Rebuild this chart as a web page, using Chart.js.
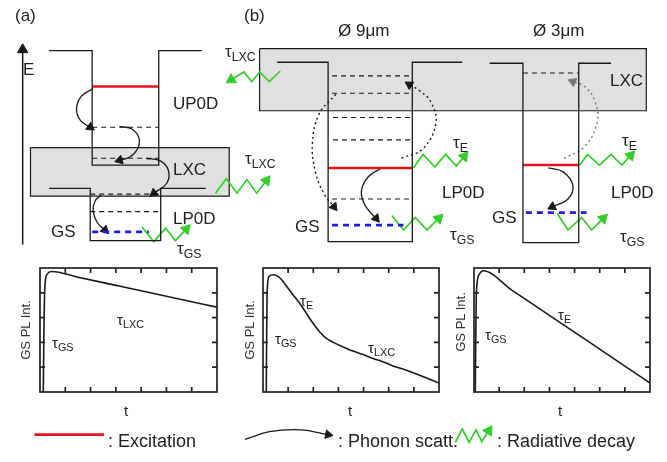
<!DOCTYPE html>
<html>
<head>
<meta charset="utf-8">
<script src="https://cdn.jsdelivr.net/npm/chart.js@4/dist/chart.umd.min.js"></script>
<style>
  body { margin: 0; background: #fff; }
  #wrap { position: relative; width: 667px; height: 462px; overflow: hidden;
          font-family: "Liberation Sans", Arial, sans-serif; color: #222; }
  canvas { position: absolute; }
  .lbl { position: absolute; white-space: nowrap; line-height: 1; transform: translateY(-50%); }
  .lbl sub { font-size: 0.72em; vertical-align: -0.35em; }
  .ylab { position: absolute; white-space: nowrap; line-height: 1; font-size: 13px;
          transform: translate(-50%, -50%) rotate(-90deg); color: #333; }
</style>
</head>
<body>
<div id="wrap">
  <canvas id="diagram" width="667" height="462" style="left:0;top:0"></canvas>
  <canvas id="plotA" width="185" height="132" style="left:36px;top:264px"></canvas>
  <canvas id="plotB" width="184" height="132" style="left:259px;top:264px"></canvas>
  <canvas id="plotC" width="184" height="132" style="left:470px;top:264px"></canvas>

  <div class="lbl" style="left:15px;top:15px;font-size:17px">(a)</div>
  <div class="lbl" style="left:244px;top:15px;font-size:17px">(b)</div>
  <div class="lbl" style="left:23px;top:69px;font-size:17px">E</div>
  <div class="lbl" style="left:173px;top:103px;font-size:17px">UP0D</div>
  <div class="lbl" style="left:173px;top:169px;font-size:17px">LXC</div>
  <div class="lbl" style="left:173px;top:218px;font-size:17px">LP0D</div>
  <div class="lbl" style="left:51px;top:231px;font-size:17px">GS</div>
  <div class="lbl" style="left:245px;top:160px;font-size:17px">τ<sub>LXC</sub></div>
  <div class="lbl" style="left:177px;top:250px;font-size:17px">τ<sub>GS</sub></div>

  <div class="lbl" style="left:338px;top:30px;font-size:17px">Ø 9μm</div>
  <div class="lbl" style="left:533px;top:30px;font-size:17px">Ø 3μm</div>
  <div class="lbl" style="left:225px;top:53px;font-size:17px">τ<sub>LXC</sub></div>
  <div class="lbl" style="left:610px;top:80px;font-size:17px">LXC</div>
  <div class="lbl" style="left:442px;top:192px;font-size:17px">LP0D</div>
  <div class="lbl" style="left:611px;top:192px;font-size:17px">LP0D</div>
  <div class="lbl" style="left:295px;top:226px;font-size:17px">GS</div>
  <div class="lbl" style="left:492px;top:217px;font-size:17px">GS</div>
  <div class="lbl" style="left:453px;top:144px;font-size:17px">τ<sub>E</sub></div>
  <div class="lbl" style="left:450px;top:236px;font-size:17px">τ<sub>GS</sub></div>
  <div class="lbl" style="left:622px;top:142px;font-size:17px">τ<sub>E</sub></div>
  <div class="lbl" style="left:620px;top:238px;font-size:17px">τ<sub>GS</sub></div>

  <div class="ylab" style="left:25px;top:330px">GS PL Int.</div>
  <div class="ylab" style="left:249px;top:330px">GS PL Int.</div>
  <div class="ylab" style="left:460px;top:322px">GS PL Int.</div>
  <div class="lbl" style="left:124px;top:410px;font-size:15px">t</div>
  <div class="lbl" style="left:348px;top:410px;font-size:15px">t</div>
  <div class="lbl" style="left:558px;top:410px;font-size:15px">t</div>
  <div class="lbl" style="left:52px;top:344px;font-size:15px">τ<sub>GS</sub></div>
  <div class="lbl" style="left:117px;top:321px;font-size:15px">τ<sub>LXC</sub></div>
  <div class="lbl" style="left:300px;top:302px;font-size:15px">τ<sub>E</sub></div>
  <div class="lbl" style="left:275px;top:340px;font-size:15px">τ<sub>GS</sub></div>
  <div class="lbl" style="left:368px;top:349px;font-size:15px">τ<sub>LXC</sub></div>
  <div class="lbl" style="left:558px;top:316px;font-size:15px">τ<sub>E</sub></div>
  <div class="lbl" style="left:485px;top:336px;font-size:15px">τ<sub>GS</sub></div>

  <div class="lbl" style="left:108px;top:441px;font-size:18px">: Excitation</div>
  <div class="lbl" style="left:338px;top:441px;font-size:18px">: Phonon scatt.</div>
  <div class="lbl" style="left:497px;top:441px;font-size:18px">: Radiative decay</div>
</div>

<script>
// ---- decay curves (t in arbitrary units 0..7, PL intensity 0..5)
const tTicks = [1, 2, 3, 4, 5, 6];
const iTicks = [1, 2, 3, 4];

const tA = [0.13, 0.15, 0.17, 0.21, 0.29, 0.46, 1.5, 3, 4.5, 6, 7];
const plA = [0, 2.0, 3.5, 4.46, 4.76, 4.86, 4.63, 4.30, 3.97, 3.64, 3.42];

const tB = [0.13, 0.16, 0.24, 0.4, 0.6, 0.8, 0.99, 1.19, 1.46, 1.72, 1.99, 2.25, 2.52,
            2.79, 3.18, 3.58, 3.98, 4.38, 4.77, 5.17, 5.7, 6.23, 6.63, 7.0];
const plB = [0, 3.9, 4.66, 4.73, 4.66, 4.46, 4.19, 3.92, 3.58, 3.18, 2.77, 2.43, 2.16,
             2.0, 1.82, 1.65, 1.51, 1.35, 1.22, 1.05, 0.88, 0.68, 0.51, 0.36];

const tC = [0.05, 0.09, 0.2, 0.36, 1.5, 3, 4.5, 6, 7];
const plC = [0, 3.92, 4.73, 4.89, 4.11, 3.09, 2.07, 1.04, 0.36];

// ---- energy diagrams (diagram coords: x across, y = energy downwards)
const eAxis = [[16, 245], [16, 44]];
const wellUP = [[43, 45], [87, 45], [87, 163], [155, 163], [155, 45], [199, 45]];
const wellLP = [[43, 187], [85, 187], [85, 241], [157, 241], [157, 187], [203, 187]];
const well9 = [[276, 57], [328, 57], [328, 242], [414, 242], [414, 57], [465, 57]];
const well3 = [[493, 58], [527, 58], [527, 243], [584, 243], [584, 58], [617, 58]];
const boxA = [[24, 145], [227, 145], [227, 195], [24, 195], [24, 145]];
const boxB = [[258, 43], [653, 43], [653, 107], [258, 107], [258, 43]];

const excite = [[[87, 82], [155, 82]], [[328, 166], [414, 166]], [[527, 163], [584, 163]], [[28, 441], [99, 441]]];
const levels = [[[87, 124], [155, 124]], [[87, 156], [155, 156]], [[85, 193], [157, 193]], [[85, 211], [157, 211]],
                [[332, 71], [412, 71]], [[332, 89], [412, 89]], [[333, 114], [412, 114]], [[333, 137], [412, 137]],
                [[332, 198], [412, 198]], [[527, 68], [584, 68]]];
const groundStates = [[[87, 232], [145, 232]], [[332, 225], [405, 225]], [[530, 212], [592, 212]]];

const phonon = [
  [[88, 84], [76, 92], [71, 105], [75, 117], [85, 124]],
  [[115, 123], [128, 126], [135, 136], [133, 147], [125, 155], [115, 158]],
  [[142, 156], [157, 159], [165, 169], [163, 182], [150, 192]],
  [[96, 194], [90, 200], [88, 210], [92, 222], [100, 230]],
  [[383, 166], [369, 175], [362, 190], [366, 205], [377, 218]],
  [[553, 166], [568, 170], [578, 184], [573, 198], [557, 206]],
  [[243, 446], [268, 438], [300, 436], [328, 441]]
];
const phononDotted = [
  [[336, 90], [319, 110], [312, 140], [315, 170], [324, 193], [334, 206]],
  [[403, 156], [425, 146], [438, 120], [433, 98], [421, 86], [411, 80]]
];
const phononGray = [[569, 156], [590, 144], [603, 118], [600, 96], [590, 82], [578, 77]];

const radiative = [
  [[213, 192], [224, 177], [235, 192], [245, 178], [255, 192], [265, 179]],
  [[138, 227], [150, 242], [162, 228], [172, 241], [183, 229]],
  [[279, 66], [268, 77], [258, 67], [250, 77], [242, 67], [229, 75]],
  [[415, 166], [425, 152], [437, 165], [448, 152], [459, 164], [467, 154]],
  [[393, 215], [405, 230], [417, 217], [429, 230], [441, 218]],
  [[585, 163], [593, 152], [605, 163], [617, 152], [628, 163], [637, 153]],
  [[562, 213], [573, 230], [587, 217], [597, 230], [609, 218]],
  [[458, 449], [465, 435], [472, 449], [479, 436], [485, 448], [492, 437]]
];

const BLACK = '#1a1a1a';
const RED = '#e8141b';
const BLUE = '#1d1de0';
const GREEN = '#35cc2c';
const GRAY = '#e0e0e0';

function pts(arr) {
  return arr.map(p => ({ x: p[0], y: p[1] }));
}

function line(arr, color, width, extra) {
  return Object.assign({
    data: pts(arr), borderColor: color, borderWidth: width,
    pointRadius: 0, tension: 0, fill: false, order: 1
  }, extra || {});
}

// curve with a triangle head on its last point, turned along the last segment
function arrow(arr, color, width, size, extra) {
  const n = arr.length;
  const dx = arr[n - 1][0] - arr[n - 2][0];
  const dy = arr[n - 1][1] - arr[n - 2][1];
  const rot = Math.atan2(dx, -dy) * 180 / Math.PI;
  return line(arr, color, width, Object.assign({
    pointRadius: arr.map((p, i) => i === n - 1 ? size : 0),
    pointRotation: rot,
    pointStyle: 'triangle',
    pointBackgroundColor: color,
    pointBorderColor: color,
    pointBorderWidth: 1
  }, extra || {}));
}

const datasets = [];
datasets.push(line(boxA, BLACK, 1.2, { fill: 'shape', backgroundColor: GRAY, order: 5 }));
datasets.push(line(boxB, BLACK, 1.2, { fill: 'shape', backgroundColor: GRAY, order: 5 }));
datasets.push(arrow(eAxis, BLACK, 1.5, 6));
[wellUP, wellLP, well9, well3].forEach(w => datasets.push(line(w, BLACK, 1.3)));
levels.forEach(l => datasets.push(line(l, BLACK, 1.1, { borderDash: [5, 4] })));
excite.forEach(l => datasets.push(line(l, RED, 2.6)));
groundStates.forEach(l => datasets.push(line(l, BLUE, 2.8, { borderDash: [6, 5] })));
phonon.forEach(c => datasets.push(arrow(c, BLACK, 1.3, 5, { tension: 0.4 })));
phononDotted.forEach(c => datasets.push(arrow(c, BLACK, 1.4, 5, { tension: 0.4, borderDash: [2, 3] })));
datasets.push(arrow(phononGray, '#777', 1.4, 5, { tension: 0.4, borderDash: [2, 3] }));
radiative.forEach(z => datasets.push(arrow(z, GREEN, 1.7, 6)));

new Chart(document.getElementById('diagram'), {
  type: 'line',
  data: { datasets: datasets },
  options: {
    responsive: false,
    animation: false,
    events: [],
    layout: { padding: 0 },
    plugins: { legend: { display: false }, tooltip: { enabled: false } },
    scales: {
      x: { type: 'linear', min: 0, max: 667, display: false },
      y: { type: 'linear', min: 0, max: 462, reverse: true, display: false }
    }
  }
});

// frame with inward ticks on all four sides
const framePlugin = {
  id: 'frame',
  afterDatasetsDraw(chart) {
    const ctx = chart.ctx;
    const xs = chart.scales.x, ys = chart.scales.y;
    const l = xs.getPixelForValue(0), r = xs.getPixelForValue(7);
    const t = ys.getPixelForValue(5), b = ys.getPixelForValue(0);
    ctx.save();
    ctx.strokeStyle = '#222';
    ctx.lineWidth = 1.7;
    ctx.strokeRect(l, t, r - l, b - t);
    ctx.beginPath();
    tTicks.forEach(v => {
      const x = xs.getPixelForValue(v);
      ctx.moveTo(x, b); ctx.lineTo(x, b - 5);
      ctx.moveTo(x, t); ctx.lineTo(x, t + 5);
    });
    iTicks.forEach(v => {
      const y = ys.getPixelForValue(v);
      ctx.moveTo(l, y); ctx.lineTo(l + 5, y);
      ctx.moveTo(r, y); ctx.lineTo(r - 5, y);
    });
    ctx.stroke();
    ctx.restore();
  }
};

function decayPlot(id, t, pl) {
  new Chart(document.getElementById(id), {
    type: 'line',
    data: {
      datasets: [{
        data: t.map((v, i) => ({ x: v, y: pl[i] })),
        borderColor: BLACK, borderWidth: 1.6, pointRadius: 0,
        cubicInterpolationMode: 'monotone'
      }]
    },
    options: {
      responsive: false,
      animation: false,
      events: [],
      layout: { padding: 4 },
      plugins: { legend: { display: false }, tooltip: { enabled: false } },
      scales: {
        x: { type: 'linear', min: 0, max: 7, display: false },
        y: { type: 'linear', min: 0, max: 5, display: false }
      }
    },
    plugins: [framePlugin]
  });
}

decayPlot('plotA', tA, plA);
decayPlot('plotB', tB, plB);
decayPlot('plotC', tC, plC);
</script>
</body>
</html>
